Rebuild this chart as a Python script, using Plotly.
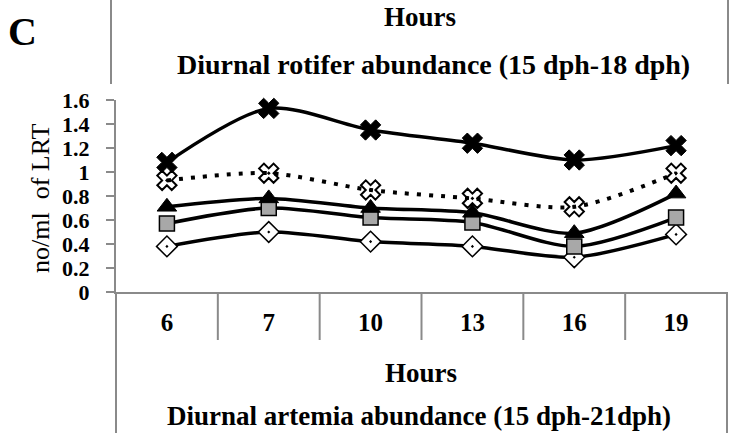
import plotly.graph_objects as go

# ---- data ----
hours = ["6", "7", "10", "13", "16", "19"]
series_star = [1.08, 1.53, 1.35, 1.24, 1.10, 1.22]
series_dotted = [0.93, 0.99, 0.85, 0.78, 0.71, 0.99]
series_triangle = [0.71, 0.78, 0.70, 0.66, 0.49, 0.82]
series_square = [0.57, 0.70, 0.62, 0.58, 0.38, 0.62]
series_diamond = [0.38, 0.50, 0.42, 0.38, 0.29, 0.48]
y_tickvals = [0, 0.2, 0.4, 0.6, 0.8, 1.0, 1.2, 1.4, 1.6]
y_ticktext = ["0", "0.2", "0.4", "0.6", "0.8", "1", "1.2", "1.4", "1.6"]

W, H = 731, 433
PL, PR, PT, PB = 116, 727, 100, 292   # plot area in pixels
L, R, T, B = PL, W - PR, PT, H - PB
PW, PH = PR - PL, PB - PT
FONT = "Liberation Serif, Times New Roman, serif"
GRAY = "#8a8a8a"


def px(x):
    return (x - PL) / PW


def py(y):
    return (PB - y) / PH


fig = go.Figure()

common = dict(x=hours, mode="lines+markers", line_shape="spline", cliponaxis=False,
              showlegend=False)

fig.add_trace(go.Scatter(y=series_diamond, **common,
                         line=dict(color="black", width=3.5, smoothing=0.8),
                         marker=dict(symbol="diamond-dot", size=16, color="white",
                                     line=dict(color="black", width=1.5))))
fig.add_trace(go.Scatter(y=series_square, **common,
                         line=dict(color="black", width=3.5, smoothing=0.8),
                         marker=dict(symbol="square", size=15, color="#a8a8a8",
                                     line=dict(color="black", width=1.5))))
fig.add_trace(go.Scatter(y=series_triangle, **common,
                         line=dict(color="black", width=3.5, smoothing=0.8),
                         marker=dict(symbol="triangle-up", size=17, color="black",
                                     line=dict(color="black", width=1))))
fig.add_trace(go.Scatter(y=series_dotted, **common,
                         line=dict(color="black", width=4, dash="4px,8px", smoothing=0.8),
                         marker=dict(symbol="x-open-dot", size=17, color="black",
                                     line=dict(color="black", width=2))))
fig.add_trace(go.Scatter(y=series_star, **common,
                         line=dict(color="black", width=3.5, smoothing=0.8),
                         marker=dict(symbol="x", size=18, color="black",
                                     line=dict(color="black", width=1))))

shapes = []
line_style = dict(color=GRAY, width=2)
# category separators below the axis
for i in range(1, len(hours)):
    shapes.append(dict(type="line", xref="x", yref="paper", x0=i - 0.5, x1=i - 0.5,
                       y0=0, y1=py(340), line=line_style))
# outer frame lines below the axis
for xpix in (PL, PR):
    shapes.append(dict(type="line", xref="paper", yref="paper", x0=px(xpix), x1=px(xpix),
                       y0=0, y1=py(H), line=line_style))
# remnants of frame lines at the top
for xpix in (111, 728):
    shapes.append(dict(type="line", xref="paper", yref="paper", x0=px(xpix), x1=px(xpix),
                       y0=py(0), y1=py(84), line=line_style))

annotations = []


def add_text(text, xpix, ypix, size, bold=True, angle=0, yanchor="middle"):
    annotations.append(dict(text=text, xref="paper", yref="paper", x=px(xpix), y=py(ypix),
                            xanchor="center", yanchor=yanchor, showarrow=False,
                            textangle=angle,
                            font=dict(family=FONT, size=size, color="black",
                                      weight="bold" if bold else "normal")))


add_text("C", 22, 32, 40)
add_text("Hours", 420, 0, 27, yanchor="top")
add_text("Diurnal rotifer abundance (15 dph-18 dph)", 433, 64, 28)
add_text("Hours", 421, 373, 27)
add_text("Diurnal artemia abundance (15 dph-21dph)", 419, 433, 27, yanchor="bottom")
add_text("no/ml  of LRT", 40, 199, 26, bold=False, angle=-90)

fig.update_layout(
    width=W, height=H,
    margin=dict(l=L, r=R, t=T, b=B, autoexpand=False),
    paper_bgcolor="white", plot_bgcolor="white",
    shapes=shapes, annotations=annotations,
    xaxis=dict(type="category", range=[-0.5, len(hours) - 0.5], showgrid=False,
               zeroline=False, showline=True, linecolor=GRAY, linewidth=2, ticks="",
               ticklabelstandoff=7,
               tickfont=dict(family=FONT, size=25, color="black", weight="bold")),
    yaxis=dict(range=[0, 1.6], tickvals=y_tickvals, ticktext=y_ticktext, showgrid=False,
               zeroline=False, showline=True, linecolor=GRAY, linewidth=2,
               ticks="outside", ticklen=8, tickwidth=2, tickcolor=GRAY,
               ticklabelstandoff=12,
               tickfont=dict(family=FONT, size=22, color="black", weight="bold")),
)

# remove the browser's default 8px page margin so the figure fills the window
fig.write_html("out.html", config={"displayModeBar": False},
               post_script="document.body.style.margin='0';")
